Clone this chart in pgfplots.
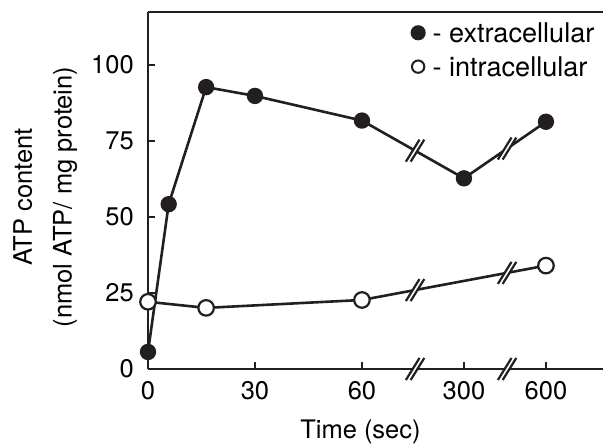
\documentclass[border=0pt]{standalone}
\usepackage{fontspec}
\setmainfont{TeX Gyre Heros}
\usepackage{pgfplots}
\pgfplotsset{compat=1.18}
\definecolor{ink}{RGB}{35,31,32}

% axis / line break: white gap with two slanted strokes
\newcommand\brk[1]{%
  \fill[white] ([shift={(-4.6bp,-5.5bp)}]#1) -- ([shift={(2.2bp,5.5bp)}]#1)
    -- ([shift={(4.6bp,5.5bp)}]#1) -- ([shift={(-2.2bp,-5.5bp)}]#1) -- cycle;
  \draw[ink, line width=1.1bp] ([shift={(-4.6bp,-5.5bp)}]#1) -- ([shift={(2.2bp,5.5bp)}]#1);
  \draw[ink, line width=1.1bp] ([shift={(-2.2bp,-5.5bp)}]#1) -- ([shift={(4.6bp,5.5bp)}]#1);
}

\begin{document}
\begin{tikzpicture}
\begin{axis}[
  scale only axis,
  width=227.5bp, height=178.5bp,
  xmin=0, xmax=127.6,
  ymin=0, ymax=117.4,
  axis x line*=box,
  axis y line*=left,
  xtick pos=left,
  ytick pos=left,
  tick align=inside,
  major tick length=3.5bp,
  axis line style={ink, line width=1.2bp},
  every tick/.style={ink, line width=1.2bp},
  xtick={0,30,60,88.6,111.6},
  xticklabels={0,30,60,300,600},
  ytick={0,25,50,75,100},
  /pgf/number format/assume math mode=true,
  font=\fontsize{12.8}{15}\selectfont,
  xticklabel style={yshift=-2.7bp},
  yticklabel style={xshift=-3.6bp},
  xlabel={Time (sec)},
  xlabel style={at={(axis description cs:0.467,-0.196)}, anchor=base},
  ylabel={ATP content\\(nmol ATP/ mg protein)},
  ylabel style={at={(axis description cs:-0.226,0.482)}, anchor=center,
    align=center, font=\fontsize{12.8}{20}\selectfont},
  clip=false,
  legend image code/.code={\draw[#1] plot coordinates {(0pt,0pt)};},
  legend style={draw=none, fill=none, inner sep=0pt,
    at={(axis description cs:0.578,0.975)}, anchor=north west,
    nodes={inner sep=1pt, text height=9.5pt, text depth=0pt},
    row sep=5.5pt, column sep=2.8bp,
    font=\fontsize{13.6}{16}\selectfont},
  legend cell align=left,
]
\addlegendimage{only marks, mark=*, mark size=3.4pt, ink, mark options={fill=ink, line width=0.8bp}}
\addlegendentry{- extracellular}
\addlegendimage{only marks, mark=*, mark size=3.1pt, ink, mark options={fill=white, line width=1bp}}
\addlegendentry{- intracellular}

% intracellular
\addplot[ink, line width=1.3bp, mark=*, mark size=3.9pt,
  mark options={fill=white, draw=ink, line width=1.1bp}, forget plot]
  coordinates {(0,22.1) (16.3,20.1) (60,22.7) (111.6,34.0)};
% extracellular
\addplot[ink, line width=1.3bp, mark=*, mark size=3.6pt,
  mark options={fill=ink, draw=ink, line width=1bp}, forget plot]
  coordinates {(0,5.6) (5.8,54.2) (16.3,92.7) (30,89.8) (60,81.7) (88.6,62.7) (111.6,81.3)};

\coordinate (o) at (rel axis cs:0,0);
\coordinate (ax1) at (axis cs:74.9,0);
\coordinate (ax2) at (axis cs:100.7,0);
\coordinate (e1) at (axis cs:74.9,71.8);
\coordinate (e2) at (axis cs:100.7,72.5);
\coordinate (i1) at (axis cs:74.9,25.96);
\coordinate (i2) at (axis cs:100.7,31.6);
\end{axis}
\brk{ax1}\brk{ax2}\brk{e1}\brk{e2}\brk{i1}\brk{i2}
\pgfresetboundingbox
\path ([shift={(-74bp,-38bp)}]o) rectangle ([shift={(227.5bp,184.5bp)}]o);
\end{tikzpicture}
\end{document}
